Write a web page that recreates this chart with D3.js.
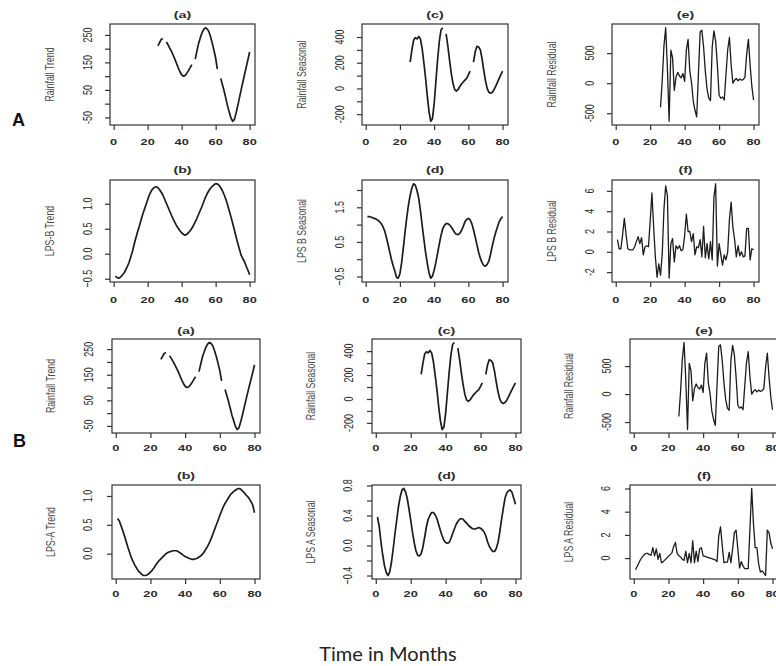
<!DOCTYPE html>
<html><head><meta charset="utf-8">
<script src="https://cdn.jsdelivr.net/npm/d3@7"></script>
<style>body{margin:0;background:#fff}svg{display:block}</style>
</head><body>
<svg id="c" width="776" height="666"></svg>
<script>
// ---------- data (month index 1..80) ----------
const months = d3.range(1, 81);
const xTicks = [0, 20, 40, 60, 80];

const rainfallTrend = [null,null,null,null,null,null,null,null,null,null,null,null,null,null,null,null,null,null,null,null,null,null,null,null,null,
 210,222,234,236,null,224,214,202,190,176,162,146,130,116,105,100,102,110,120,131,142,null,162,192,220,240,258,270,276,272,262,243,220,194,166,126,null,
 92,69,46,19,-8,-30,-52,-64,-58,-35,-8,21,50,78,106,133,160,188];

const rainfallSeasonal = [null,null,null,null,null,null,null,null,null,null,null,null,null,null,null,null,null,null,null,null,null,null,null,null,null,
 205,300,375,395,385,405,385,310,200,80,-60,-180,-255,-235,-120,50,220,365,455,472,null,425,330,220,120,40,-8,-20,-8,15,35,50,65,78,105,135,null,
 205,285,328,322,300,230,140,60,0,-30,-38,-30,-10,18,48,78,108,135];

const rainfallResidual = [null,null,null,null,null,null,null,null,null,null,null,null,null,null,null,null,null,null,null,null,null,null,null,null,null,
 -400,50,620,922,250,-633,550,420,-120,100,180,120,90,160,30,550,730,200,10,-300,-450,-560,150,850,880,600,200,-100,-250,-290,600,870,700,300,-200,-250,-230,-280,
 150,560,760,300,0,50,80,40,70,50,60,100,480,730,300,-50,-280];

const lpsBTrend = [-0.45,-0.48,-0.49,-0.47,-0.43,-0.39,-0.33,-0.26,-0.18,-0.07,0.04,0.18,0.31,0.43,0.54,0.66,0.78,0.88,0.98,1.08,
 1.18,1.25,1.30,1.33,1.34,1.32,1.28,1.23,1.17,1.09,1.01,0.93,0.85,0.77,0.70,0.63,0.56,0.51,0.46,0.42,
 0.39,0.37,0.39,0.42,0.46,0.51,0.57,0.64,0.71,0.79,0.87,0.95,1.04,1.13,1.20,1.26,1.31,1.35,1.38,1.40,
 1.40,1.37,1.32,1.26,1.18,1.09,0.98,0.86,0.74,0.61,0.48,0.34,0.21,0.09,-0.03,-0.10,-0.16,-0.25,-0.33,-0.42];

const lpsBSeasonal = [1.23,1.23,1.22,1.20,1.18,1.16,1.13,1.09,1.03,0.95,0.83,0.65,0.44,0.22,0.0,-0.18,-0.34,-0.52,-0.55,-0.42,
 -0.10,0.33,0.78,1.20,1.57,1.85,2.06,2.18,2.14,1.98,1.76,1.40,0.98,0.58,0.20,-0.12,-0.39,-0.55,-0.49,-0.32,
 -0.10,0.17,0.44,0.68,0.88,0.98,1.03,1.03,0.99,0.93,0.85,0.77,0.72,0.71,0.75,0.83,0.95,1.08,1.15,1.18,
 1.14,1.03,0.85,0.64,0.42,0.20,0.03,-0.10,-0.18,-0.20,-0.15,-0.05,0.15,0.39,0.60,0.78,0.93,1.08,1.17,1.23];

const lpsBResidual = [1.2,0.3,0.3,1.7,3.3,1.7,0.3,0.2,0.2,0.2,0.5,1.0,1.5,0.8,1.4,-0.3,0.5,0.6,0.5,3.0,
 5.8,2.5,-0.5,-2.5,-1.2,-2.3,-0.2,4.2,6.5,5.5,-2.6,0.8,1.3,-1.0,0.6,0.3,0.6,0.1,0.2,1.6,
 3.7,2.0,2.0,1.0,1.8,-0.3,0.5,0.4,1.2,-0.5,2.5,-0.6,0.8,-0.7,1.0,-0.8,5.4,6.7,-1.4,0.8,
 -0.3,-1.3,-0.3,-0.8,0.0,3.2,4.9,2.4,1.2,-0.5,0.6,-0.4,0.0,-0.5,-0.4,2.3,2.3,-0.8,0.3,0.2];

const lpsATrend = [0.61,0.57,0.49,0.40,0.31,0.21,0.11,0.02,-0.07,-0.14,-0.20,-0.25,-0.30,-0.33,-0.36,-0.38,-0.38,-0.37,-0.35,-0.32,
 -0.29,-0.25,-0.20,-0.16,-0.12,-0.09,-0.06,-0.03,0.00,0.02,0.03,0.04,0.05,0.05,0.05,0.035,0.015,-0.005,-0.03,-0.05,
 -0.065,-0.08,-0.09,-0.10,-0.10,-0.09,-0.08,-0.06,-0.04,-0.01,0.03,0.08,0.13,0.19,0.26,0.34,0.42,0.50,0.58,0.66,
 0.74,0.81,0.87,0.92,0.97,1.02,1.05,1.08,1.10,1.12,1.13,1.12,1.09,1.06,1.02,0.99,0.95,0.90,0.84,0.71];

const lpsASeasonal = [0.38,0.25,0.04,-0.13,-0.27,-0.36,-0.40,-0.35,-0.22,-0.04,0.16,0.34,0.52,0.65,0.74,0.76,0.72,0.63,0.49,0.34,
 0.18,0.04,-0.07,-0.13,-0.14,-0.11,-0.02,0.11,0.25,0.35,0.40,0.44,0.44,0.41,0.36,0.28,0.20,0.13,0.07,0.04,
 0.03,0.04,0.09,0.16,0.22,0.28,0.32,0.35,0.36,0.35,0.32,0.30,0.27,0.25,0.23,0.22,0.22,0.23,0.24,0.23,
 0.21,0.18,0.13,0.05,-0.01,-0.05,-0.08,-0.08,-0.04,0.04,0.18,0.34,0.49,0.63,0.70,0.73,0.74,0.71,0.63,0.55];

const lpsAResidual = [-1.0,-0.7,-0.4,-0.1,0.1,0.3,0.4,0.4,0.3,0.25,0.9,0.2,0.8,-0.1,0.4,-0.4,-0.3,-0.15,0.0,0.15,
 0.3,0.45,1.0,1.35,0.4,0.2,0.1,-0.1,-0.2,0.6,-0.4,0.4,-0.4,1.5,-0.4,0.6,-0.3,0.8,0.9,0.2,
 0.15,0.1,0.05,0.0,-0.05,-0.1,-0.15,-0.3,1.9,2.7,1.1,-0.4,-0.35,-0.35,0.5,-0.4,0.8,2.2,2.4,0.8,
 -0.85,-0.3,-0.7,-0.9,-0.9,-0.9,2.6,6.0,3.0,0.9,0.9,-0.5,-1.2,-1.1,-1.3,-1.5,2.4,2.2,1.3,0.8];

// y ticks and which of them carry labels
const ticksRainTrend = [-50,0,50,100,150,200,250],   labRainTrend = [-50,50,150,250];
const ticksRainSeas  = [-200,-100,0,100,200,300,400], labRainSeas = [-200,0,200,400];
const ticksRainRes   = [-500,0,500],                 labRainRes  = [-500,0,500];
const ticksBTrend    = [-0.5,0,0.5,1.0],             labBTrend   = [-0.5,0,0.5,1.0];
const ticksBSeas     = [-0.5,0,0.5,1.0,1.5,2.0],     labBSeas    = [-0.5,0.5,1.5];
const ticksBRes      = [-2,0,2,4,6],                 labBRes     = [-2,0,2,4,6];
const ticksATrend    = [0,0.5,1.0],                  labATrend   = [0,0.5,1.0];
const ticksASeas     = [-0.4,-0.2,0,0.2,0.4,0.6,0.8],labASeas    = [-0.4,0,0.4,0.8];
const ticksARes      = [0,2,4,6],                    labARes     = [0,2,4,6];

const fmt1 = d => d3.format(".1f")(d);
const fmt0 = d => String(d);

// ---------- panel definitions ----------
const panels = [
 {r:0,c:0,t:"(a)",yl:"Rainfall Trend",   v:rainfallTrend,   tk:ticksRainTrend, lb:labRainTrend, f:fmt0},
 {r:0,c:1,t:"(c)",yl:"Rainfall Seasonal",v:rainfallSeasonal,tk:ticksRainSeas,  lb:labRainSeas,  f:fmt0},
 {r:0,c:2,t:"(e)",yl:"Rainfall Residual",v:rainfallResidual,tk:ticksRainRes,   lb:labRainRes,   f:fmt0, thin:true},
 {r:1,c:0,t:"(b)",yl:"LPS-B Trend",      v:lpsBTrend,       tk:ticksBTrend,    lb:labBTrend,    f:fmt1},
 {r:1,c:1,t:"(d)",yl:"LPS B Seasonal",   v:lpsBSeasonal,    tk:ticksBSeas,     lb:labBSeas,     f:fmt1},
 {r:1,c:2,t:"(f)",yl:"LPS B Residual",   v:lpsBResidual,    tk:ticksBRes,      lb:labBRes,      f:fmt0, thin:true},
 {r:2,c:0,t:"(a)",yl:"Rainfall Trend",   v:rainfallTrend,   tk:ticksRainTrend, lb:labRainTrend, f:fmt0},
 {r:2,c:1,t:"(c)",yl:"Rainfall Seasonal",v:rainfallSeasonal,tk:ticksRainSeas,  lb:labRainSeas,  f:fmt0},
 {r:2,c:2,t:"(e)",yl:"Rainfall Residual",v:rainfallResidual,tk:ticksRainRes,   lb:labRainRes,   f:fmt0, thin:true},
 {r:3,c:0,t:"(b)",yl:"LPS-A Trend",      v:lpsATrend,       tk:ticksATrend,    lb:labATrend,    f:fmt1},
 {r:3,c:1,t:"(d)",yl:"LPS A Seasonal",   v:lpsASeasonal,    tk:ticksASeas,     lb:labASeas,     f:fmt1},
 {r:3,c:2,t:"(f)",yl:"LPS A Residual",   v:lpsAResidual,    tk:ticksARes,      lb:labARes,      f:fmt0, thin:true}
];

// ---------- layout ----------
const colsTop = [[110,255],[362,508],[612,759]];
const colsBot = [[112,260],[372,521],[630,778]];
const rows = [
 {top:24,  bottom:125, cols:colsTop, xl:20, yl:18, yt:56, tt:6},
 {top:180, bottom:282, cols:colsTop, xl:21, yl:18, yt:56, tt:7},
 {top:339, bottom:433, cols:colsBot, xl:18, yl:19, yt:57, tt:5},
 {top:485, bottom:579, cols:colsBot, xl:18, yl:20, yt:57, tt:6}
];
const SX = 1.5; // horizontal stretch of the original figure's lettering

const svg = d3.select("#c");
const ink = "#2b2b2b";

function pad(ext){ const d=(ext[1]-ext[0])*0.04; return [ext[0]-d, ext[1]+d]; }

panels.forEach(p => {
  const R = rows[p.r], [L, Rt] = R.cols[p.c], T = R.top, B = R.bottom;
  const x = d3.scaleLinear().domain(pad([1,80])).range([L, Rt]);
  const y = d3.scaleLinear().domain(pad(d3.extent(p.v.filter(v => v != null)))).range([B, T]);
  const g = svg.append("g");

  // line
  const line = d3.line().defined(d => d[1] != null).x(d => x(d[0])).y(d => y(d[1]));
  g.append("path").datum(months.map((m,i) => [m, p.v[i]]))
    .attr("d", line).attr("fill","none").attr("stroke","#1c1c1c")
    .attr("stroke-width", p.thin ? 1.3 : 1.7).attr("stroke-linejoin","round");

  // box
  g.append("rect").attr("x",L).attr("y",T).attr("width",Rt-L).attr("height",B-T)
    .attr("fill","none").attr("stroke","#333").attr("stroke-width",1.2);

  // x axis
  const xa = g.append("g").attr("transform",`translate(0,${B})`)
    .call(d3.axisBottom(x).tickValues(xTicks).tickSize(5).tickSizeOuter(0).tickFormat(""));
  xa.select(".domain").remove();
  xa.selectAll("line").attr("stroke","#333").attr("stroke-width",1.2);
  xTicks.forEach(t => {
    g.append("text").text(t)
      .attr("transform",`translate(${x(t)},${B+R.xl}) scale(${SX},1)`)
      .attr("text-anchor","middle").attr("font-family","Liberation Sans, Arial, sans-serif")
      .attr("font-weight","bold").attr("font-size",8.5).attr("fill",ink);
  });

  // y axis
  const ya = g.append("g").attr("transform",`translate(${L},0)`)
    .call(d3.axisLeft(y).tickValues(p.tk).tickSize(5).tickSizeOuter(0).tickFormat(""));
  ya.select(".domain").remove();
  ya.selectAll("line").attr("stroke","#333").attr("stroke-width",1.2);
  p.lb.forEach(t => {
    g.append("text").text(p.f(t))
      .attr("transform",`translate(${L-R.yl},${y(t)}) rotate(-90) scale(1,${SX})`)
      .attr("text-anchor","middle").attr("font-family","Liberation Sans, Arial, sans-serif")
      .attr("font-size",9).attr("fill",ink);
  });

  // y title
  g.append("text").text(p.yl)
    .attr("transform",`translate(${L-R.yt},${(T+B)/2}) rotate(-90) scale(1,1.35)`)
    .attr("text-anchor","middle").attr("font-family","Liberation Sans, Arial, sans-serif")
    .attr("font-size",8.8).attr("fill","#4a4a4a");

  // panel title
  g.append("text").text(p.t)
    .attr("transform",`translate(${(L+Rt)/2},${T-R.tt}) scale(${SX},1)`)
    .attr("text-anchor","middle").attr("font-family","Liberation Sans, Arial, sans-serif")
    .attr("font-weight","bold").attr("font-size",9.5).attr("fill",ink);
});

// group letters
svg.append("text").text("A").attr("x",12).attr("y",126)
  .attr("font-family","Liberation Sans, Arial, sans-serif").attr("font-weight","bold")
  .attr("font-size",18).attr("fill","#111");
svg.append("text").text("B").attr("x",13).attr("y",447)
  .attr("font-family","Liberation Sans, Arial, sans-serif").attr("font-weight","bold")
  .attr("font-size",18).attr("fill","#111");

// common x title
svg.append("text").text("Time in Months").attr("x",388).attr("y",661)
  .attr("text-anchor","middle").attr("font-family","Lato, 'Open Sans', sans-serif")
  .attr("font-size",20).attr("fill","#222");
</script>
</body></html>
